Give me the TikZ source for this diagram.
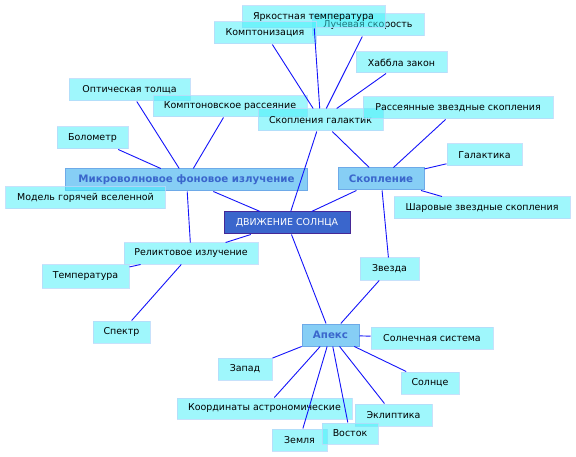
\documentclass[tikz,border=0pt]{standalone}
\usepackage{fontspec}
\setmainfont{DejaVu Sans}
\definecolor{leafbase}{RGB}{64,240,250}
\definecolor{leafborder}{RGB}{185,218,250}
\definecolor{midfill}{RGB}{128,204,245}
\definecolor{midborder}{RGB}{110,170,232}
\definecolor{midtext}{RGB}{58,102,204}
\definecolor{hubfill}{RGB}{58,102,204}
\definecolor{hubborder}{RGB}{70,40,150}
\definecolor{linkc}{RGB}{20,20,250}
\tikzset{
  box/.style={rectangle, inner sep=0pt, font=\fontsize{9.5}{11}\selectfont},
  leaf/.style={box, draw=leafborder, line width=1bp, fill=leafbase, fill opacity=0.5, draw opacity=0.8, text opacity=1, text=black},
  mid/.style={box, draw=midborder, line width=1bp, fill=midfill, fill opacity=0.95, text opacity=1, text=midtext, font=\fontsize{10.3}{12}\selectfont\bfseries},
  hub/.style={box, draw=hubborder, line width=1bp, fill=hubfill, text=white},
  wh/.style 2 args={minimum width=#1bp, minimum height=#2bp},
  link/.style={draw=linkc, line width=0.9bp}
}
\begin{document}
\begin{tikzpicture}[x=1bp,y=-1bp]
\useasboundingbox (0,0) rectangle (576,457);
\fill[white] (0,0) rectangle (576,457);
% top cluster
\node[leaf, wh={112}{22}] (luch) at (368,25) {Лучевая скорость};
\node[leaf, wh={143}{22}] (yark) at (313.5,17) {Яркостная температура};
\node[leaf, wh={102}{22}] (kompz) at (265,33) {Комптонизация};
\node[leaf, wh={91}{21}] (hubble) at (401.5,62.5) {Хаббла закон};
\node[leaf, wh={121}{22}] (opt) at (129.5,90) {Оптическая толща};
\node[leaf, wh={154}{21}] (kompr) at (230,106.5) {Комптоновское рассеяние};
\node[leaf, wh={125}{22}] (skgal) at (320.5,120) {Скопления галактик};
\node[leaf, wh={190}{22}] (rass) at (458,108) {Рассеянные звездные скопления};
\node[leaf, wh={71}{22}] (bolo) at (92.5,138) {Болометр};
\node[leaf, wh={75}{22}] (galaxy) at (484.5,155) {Галактика};
\node[mid, wh={241}{22}] (micro) at (186.5,180) {Микроволновое фоновое излучение};
\node[leaf, wh={159}{22}] (model) at (85.5,198) {Модель горячей вселенной};
\node[mid, wh={86}{22}] (skop) at (381,179) {Скопление};
\node[leaf, wh={176}{22}] (shar) at (482,208) {Шаровые звездные скопления};
\node[hub, wh={126}{22}] (hub) at (287,223) {ДВИЖЕНИЕ СОЛНЦА};
\node[leaf, wh={134}{21}] (relikt) at (191,253.5) {Реликтовое излучение};
\node[leaf, wh={87}{23}] (temp) at (85.5,276.5) {Температура};
\node[leaf, wh={59}{22}] (star) at (389.5,269) {Звезда};
\node[leaf, wh={57}{22}] (spectr) at (121.5,332) {Спектр};
\node[mid, wh={57}{22}] (apex) at (330.5,335) {Апекс};
\node[leaf, wh={122}{22}] (solsys) at (432,338) {Солнечная система};
\node[leaf, wh={54}{22}] (west) at (245,369) {Запад};
\node[leaf, wh={58}{22}] (sun) at (430,383) {Солнце};
\node[leaf, wh={175}{21}] (coord) at (264.5,408.5) {Координаты астрономические};
\node[leaf, wh={77}{22}] (eclip) at (393.5,415) {Эклиптика};
\node[leaf, wh={55}{22}] (earth) at (299.5,440) {Земля};
\node[leaf, wh={56}{21}] (east) at (350,433.5) {Восток};
% connectors
\draw[link] (hub) -- (micro);
\draw[link] (hub) -- (skgal);
\draw[link] (hub) -- (skop);
\draw[link] (hub) -- (relikt);
\draw[link] (hub) -- (apex);
\draw[link] (skgal) -- (kompz);
\draw[link] (skgal) -- (yark);
\draw[link] (skgal) -- (luch);
\draw[link] (skgal) -- (hubble);
\draw[link] (skgal) -- (skop);
\draw[link] (skop) -- (rass);
\draw[link] (skop) -- (galaxy);
\draw[link] (skop) -- (shar);
\draw[link] (skop) -- (star);
\draw[link] (star) -- (apex);
\draw[link] (micro) -- (kompr);
\draw[link] (micro) -- (opt);
\draw[link] (micro) -- (bolo);
\draw[link] (micro) -- (relikt);
\draw[link] (relikt) -- (temp);
\draw[link] (relikt) -- (spectr);
\draw[link] (apex) -- (solsys);
\draw[link] (apex) -- (west);
\draw[link] (apex) -- (coord);
\draw[link] (apex) -- (earth);
\draw[link] (apex) -- (east);
\draw[link] (apex) -- (eclip);
\draw[link] (apex) -- (sun);
\end{tikzpicture}
\end{document}
